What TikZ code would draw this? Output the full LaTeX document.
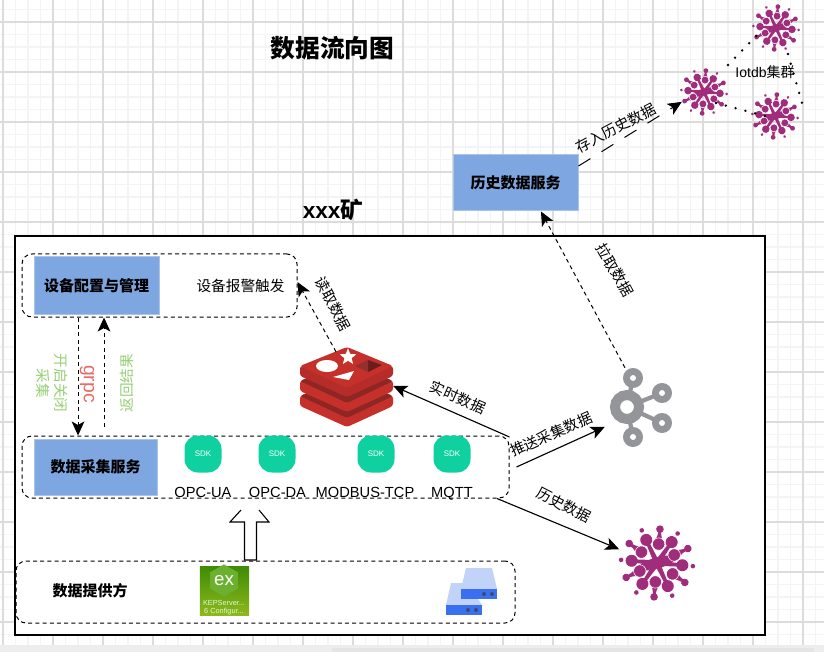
\documentclass[tikz,border=0pt]{standalone}
\usepackage{fontspec}
\setmainfont{Noto Sans CJK SC}
\newfontfamily\lat{Liberation Sans}
\usetikzlibrary{arrows.meta,shapes.geometric}
\definecolor{blueb}{HTML}{7EA6E0}
\definecolor{bluee}{HTML}{A9C4EB}
\definecolor{sdkg}{HTML}{0FD1A0}
\definecolor{iot}{HTML}{A02C7C}
\definecolor{kaf}{HTML}{939598}
\definecolor{grn}{HTML}{97D077}
\definecolor{rd}{HTML}{EA6B66}
\definecolor{rtop}{HTML}{C6302B}
\definecolor{rdark}{HTML}{8E2624}
\definecolor{srvl}{HTML}{C2D3FA}
\definecolor{srvb}{HTML}{3A6FF0}
\definecolor{srvd}{HTML}{3C4A73}
\definecolor{gmaj}{HTML}{DCDCDC}
\definecolor{gmin}{HTML}{F4F4F4}
\definecolor{keptop}{HTML}{3F8C05}
\definecolor{kepmid}{HTML}{5FA00E}
\definecolor{kepbot}{HTML}{90B81C}
\definecolor{kephx}{HTML}{6CB030}
\tikzset{
  x=0.75pt,y=-0.75pt,
  group/.style={draw=black,line width=0.75pt,dash pattern=on 3pt off 2.4pt,rounded corners=7.5pt,inner sep=0pt},
  svc/.style={draw=bluee,line width=0.75pt,fill=blueb,inner sep=0pt,font=\fontsize{11.25}{13}\selectfont\bfseries},
  sdk/.style={fill=sdkg,draw=none,rounded corners=10pt,minimum size=27.75pt,inner sep=0pt,text=white,font=\lat\fontsize{6}{7}\selectfont},
  proto/.style={font=\lat\fontsize{11}{12}\selectfont,inner sep=0pt,text height=8pt,text depth=0pt},
  lbl/.style={font=\fontsize{11}{12}\selectfont,inner sep=0pt},
  holder/.style={inner sep=0pt,draw=none},
  dashflow/.style={line width=0.75pt,dash pattern=on 3pt off 2.6pt,-{Stealth[length=10.5pt,width=9.5pt,inset=2.6pt]}},
  flow/.style={line width=0.85pt,-{Stealth[length=10.5pt,width=9.5pt,inset=2.6pt]}},
  longflow/.style={line width=0.75pt,dash pattern=on 10.5pt off 9.8pt,-{Stealth[length=10.5pt,width=9.5pt,inset=2.6pt]}},
  dots/.style={line width=2pt,line cap=round,dash pattern=on 0pt off 7.6pt},
  pics/flower/.style={code={
    \foreach \a in {0,60,...,300}{
      \begin{scope}[rotate=25-\a]
        \fill[iot] (0,-25.5) circle (6);
        \fill[iot] (0,-36) circle (2.3);
        \fill[iot] (-1.6,-24) -- (1.6,-24) -- (2.6,-4) -- (-2.6,-4) -- cycle;
      \end{scope}
    }
    \fill[iot,rotate=16] (0,0) ellipse (19 and 5.5);
    \foreach \a in {0,60,...,300}{
      \begin{scope}[rotate=-5-\a]
        \fill[iot] (-4.5,-21) .. controls (-2,-26) and (-1.3,-29) .. (-1.3,-34) -- (1.3,-34) .. controls (1.3,-29) and (2,-26) .. (4.5,-21) -- cycle;
        \fill[iot] (0,-34) circle (3.8);
        \filldraw[iot,draw=white,line width=0.4pt] (0,-19) circle (6.2);
      \end{scope}
    }
  }}
}
\begin{document}
\begin{tikzpicture}
\useasboundingbox (0,0) rectangle (824,652);
\fill[white] (0,0) rectangle (824,652);
% canvas grid
\begin{scope}
\clip (0,0) rectangle (824,645);
\foreach \k in {0,...,66}{\draw[line width=0.9pt,draw=gmin] ({3+12.5*\k},0) -- ({3+12.5*\k},652);}
\foreach \k in {-1,...,52}{\draw[line width=0.9pt,draw=gmin] (0,{22+12.5*\k}) -- (824,{22+12.5*\k});}
\foreach \k in {0,...,16}{\draw[line width=0.9pt,draw=gmaj] ({3+50*\k},0) -- ({3+50*\k},652);}
\foreach \k in {0,...,13}{\draw[line width=0.9pt,draw=gmaj] (0,{22+50*\k}) -- (824,{22+50*\k});}
\end{scope}
\fill[black!7] (0,645) rectangle (824,652);
\fill[black!10] (332,648) rectangle (814,652);
% titles
\node[holder,font=\fontsize{18.5}{20}\selectfont\bfseries] (title) at (332.5,48) {数据流向图};
\node[holder,font=\fontsize{17}{18}\selectfont\bfseries] (mine) at (333,210) {{\lat xxx}矿};
% mine frame
\node[draw=black,line width=1pt,fill=white,inner sep=0pt,minimum width=562.5pt,minimum height=299.25pt] (frame) at (390,435.5) {};
% groups
\node[group,minimum width=206.25pt,minimum height=47.25pt] (cfggroup) at (159.5,285.5) {};
\node[group,minimum width=365.25pt,minimum height=46.5pt] (colgroup) at (265.5,467) {};
\node[group,minimum width=374.25pt,minimum height=46.5pt] (provgroup) at (265.5,592) {};
% services
\node[svc,minimum width=93.75pt,minimum height=42.75pt] (cfg) at (96.5,285.5) {设备配置与管理};
\node[svc,minimum width=92.25pt,minimum height=42pt] (col) at (95.5,467) {数据采集服务};
\node[svc,minimum width=93.75pt,minimum height=42pt] (hist) at (515.5,183) {历史数据服务};
\node[holder,font=\fontsize{11}{13}\selectfont] (alarm) at (240.5,285.5) {设备报警触发};
\node[holder,font=\fontsize{11.25}{13}\selectfont\bfseries] (prov) at (90,591) {数据提供方};
% SDK
\node[sdk] (s1) at (203,454) {SDK};
\node[sdk] (s2) at (277,454) {SDK};
\node[sdk] (s3) at (376,454) {SDK};
\node[sdk] (s4) at (452,454) {SDK};
\node[proto] (p1) at (203,492) {OPC-UA};
\node[proto] (p2) at (277.5,492) {OPC-DA};
\node[proto] (p3) at (365,492) {MODBUS-TCP};
\node[proto] (p4) at (452,492) {MQTT};
% hollow arrow
\draw[line width=0.8pt,fill=white] (241,510) -- (230,522) -- (244.5,522) -- (244.5,560) -- (256.5,560) -- (256.5,522) -- (269,522) -- (259,510);
% KEPServer tile
\node[inner sep=0pt,minimum size=37pt,top color=keptop,middle color=kepmid,bottom color=kepbot] (kep) at (224.5,591) {};
\node[regular polygon,regular polygon sides=6,shape border rotate=30,fill=kephx,inner sep=0pt,minimum size=22pt,text=white,font=\lat\fontsize{14}{14}\selectfont] (kephex) at (224,580.5) {ex};
\node[holder,text=white!85!green,font=\lat\fontsize{5.5}{6}\selectfont] (kept1) at (224,603) {KEPServer...};
\node[holder,text=white!85!green,font=\lat\fontsize{5.5}{6}\selectfont] (kept2) at (224,612) {6 Configur...};
% server icon
\fill[srvl] (451,583) -- (464,583) -- (461,599) -- (478,599) -- (482,605) -- (446,605) -- cycle;
\fill[srvl] (466,568) -- (492,568) -- (497,589) -- (461,589) -- cycle;
\fill[srvb] (461,589) rectangle (497,599);
\fill[srvb] (446,605) rectangle (482,615);
\foreach \p in {(484,594),(492,594),(468,610),(476,610)}{\fill[srvd] \p circle (2);}
% redis icon
\node[holder,minimum width=69.75pt,minimum height=60pt] (redis) at (346.5,388) {};
\begin{scope}[rounded corners=2pt]
\foreach \o in {30,15}{
  \fill[rtop] (300,366+\o) -- (300,376+\o) -- (347,397+\o) -- (393,376+\o) -- (393,366+\o) -- (347,347+\o) -- cycle;
  \fill[rdark] (300,366+\o) -- (347,388+\o) -- (393,366+\o) -- (347,347+\o) -- cycle;
}
\fill[rtop!92!black] (300,366) -- (300,376) -- (347,397) -- (393,376) -- (393,366) -- cycle;
\fill[rtop] (300,366) -- (347,388) -- (393,366) -- (347,347) -- cycle;
\end{scope}
\fill[rdark!75!black] (368,360) -- (382,365) -- (368,372) -- cycle;
\fill[rdark!95!white] (368,360) -- (355,366) -- (368,372) -- cycle;
\fill[white] (327,366) ellipse (11 and 6);
\fill[white] (333,377) -- (354,371) -- (349,380) -- cycle;
\node[star,star points=5,star point ratio=2.3,fill=white,inner sep=0pt,minimum size=13pt] (rstar) at (348,357) {};
% kafka icon
\node[holder,minimum width=47.25pt,minimum height=59.25pt] (kafka) at (641.5,407.5) {};
\foreach \p in {(633,378),(662,393),(662,423),(633,437)}{\draw[kaf,line width=3.2pt] (627,407) -- \p;}
\draw[kaf,fill=white,line width=7.5pt] (627,407) circle (12);
\foreach \p in {(633,378),(662,393),(662,423),(633,437)}{\draw[kaf,fill=white,line width=5.2pt] \p circle (6.5);}
% flowers
\node[holder,circle,minimum size=60pt] (bigflower) at (657,563) {};
\pic at (657,563) {flower};
\node[holder,circle,minimum size=36pt] (fa) at (704,92) {};
\pic[scale=0.63] at (704,92) {flower};
\node[holder,circle,minimum size=36pt] (fb) at (776,28) {};
\pic[scale=0.63] at (776,28) {flower};
\node[holder,circle,minimum size=36pt] (fc) at (775,116) {};
\pic[scale=0.63] at (775,116) {flower};
\node[holder,font=\fontsize{10.5}{12}\selectfont] (cluster) at (765,72) {{\lat Iotdb}集群};
% connectors
\draw[dashflow] ([xshift=-61.1pt]cfggroup.south) -- ([xshift=-140.6pt]colgroup.north);
\draw[dashflow] ([xshift=-121.1pt,yshift=6.75pt]colgroup.north) -- ([xshift=-41.6pt]cfggroup.south);
\draw[dashflow] ([xshift=-7.9pt,yshift=-3pt]redis.north) -- ([yshift=2.6pt]cfggroup.east);
\draw[flow] ([yshift=22.5pt]colgroup.east) -- ([yshift=1.5pt]redis.east);
\draw[flow] ([xshift=5.25pt]colgroup.east) -- ([xshift=-3.75pt,yshift=-14.6pt]kafka.west);
\draw[flow] ([xshift=173.6pt]colgroup.south) -- (bigflower.160);
\draw[dashflow] ([xshift=-12.4pt]kafka.north) -- ([xshift=19.1pt]hist.south);
\draw[longflow] ([yshift=12.75pt]hist.east) -- (fa.204);
\draw[dots] ([xshift=18pt,yshift=20.25pt]fa.center) -- ([xshift=-9.75pt,yshift=-0.75pt]fb.center);
\draw[dots] ([xshift=9pt,yshift=-19.5pt]fb.center) -- ([xshift=20.25pt,yshift=9.75pt]fc.center);
\draw[dots] ([xshift=9pt,yshift=-8.25pt]fa.center) -- ([xshift=-7.5pt]fc.center);
% connector labels
\node[lbl,rotate=-62] (l1) at (333,304) {读取数据};
\node[lbl,rotate=-24] (l2) at (458,397) {实时数据};
\node[lbl,rotate=24] (l3) at (551,434) {推送采集数据};
\node[lbl,rotate=-27] (l4) at (564,505) {历史数据};
\node[lbl,rotate=-60] (l5) at (615,270) {拉取数据};
\node[lbl,rotate=28] (l6) at (615.5,128) {存入历史数据};
\node[lbl,rotate=-90,text=grn] (l7) at (61,383) {开启关闭};
\node[lbl,rotate=-90,text=grn] (l8) at (43,383) {采集};
\node[lbl,rotate=-90,text=rd,font=\lat\fontsize{14.5}{15}\selectfont] (l9) at (87,384) {grpc};
\node[lbl,rotate=90,text=grn] (l10) at (127,383) {返回结果};
\end{tikzpicture}
\end{document}
